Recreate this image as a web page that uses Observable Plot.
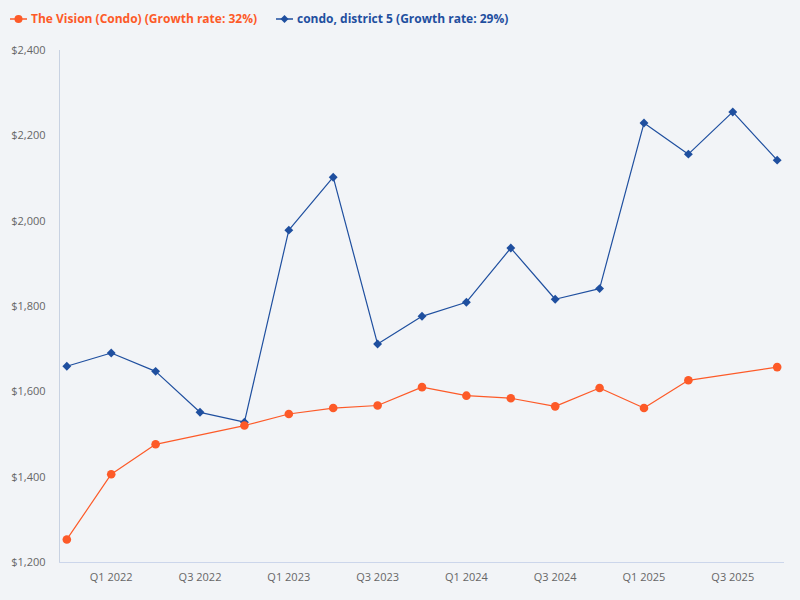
<!DOCTYPE html>
<html>
<head>
<meta charset="utf-8">
<script src="https://cdn.jsdelivr.net/npm/d3@7"></script>
<script src="https://cdn.jsdelivr.net/npm/@observablehq/plot@0.6"></script>
<style>
  html, body { margin: 0; padding: 0; background: #f2f4f7; }
  body { width: 800px; height: 600px; overflow: hidden; font-family: "Open Sans", "Noto Sans", sans-serif; }
  #legend { height: 36px; position: relative; font-weight: 700; font-size: 12px; }
  .item { position: absolute; top: 10px; display: flex; align-items: center; white-space: nowrap; }
  .item svg { margin-right: 4px; }
</style>
</head>
<body>
<div id="legend"></div>
<div id="chart"></div>
<script>
const quarters = ["Q4 2021","Q1 2022","Q2 2022","Q3 2022","Q4 2022","Q1 2023","Q2 2023","Q3 2023","Q4 2023","Q1 2024","Q2 2024","Q3 2024","Q4 2024","Q1 2025","Q2 2025","Q3 2025","Q4 2025"];
const visionValues   = [1254,1407,1477,null,1521,1548,1562,1568,1611,1591,1585,1566,1609,1562,1627,null,1658];
const districtValues = [1660,1691,1648,1552,1529,1979,2103,1712,1777,1810,1937,1817,1842,2230,2157,2256,2143];
const yTicks = [1200,1400,1600,1800,2000,2200,2400];
const xTickLabels = ["Q1 2022","Q3 2022","Q1 2023","Q3 2023","Q1 2024","Q3 2024","Q1 2025","Q3 2025"];
const seriesNames = ["The Vision (Condo) (Growth rate: 32%)","condo, district 5 (Growth rate: 29%)"];
const orange = "#fd5a28";
const blue = "#1f4f9f";

const vision = quarters.map((q, i) => ({i, q, v: visionValues[i]})).filter(d => d.v != null);
const district = quarters.map((q, i) => ({i, q, v: districtValues[i]}));
const xTicks = xTickLabels.map(l => quarters.indexOf(l));

// legend
const legend = document.getElementById("legend");
legend.innerHTML = `
  <div class="item" style="left:10px;color:${orange}">
    <svg width="17" height="10"><line x1="0" x2="17" y1="5" y2="5" stroke="${orange}" stroke-width="1.5"/><circle cx="8.5" cy="5" r="4" fill="${orange}"/></svg>${seriesNames[0]}
  </div>
  <div class="item" style="left:276px;color:${blue}">
    <svg width="17" height="10"><line x1="0" x2="17" y1="5" y2="5" stroke="${blue}" stroke-width="1.5"/><path d="M8.5,1L12.5,5L8.5,9L4.5,5Z" fill="${blue}"/></svg>${seriesNames[1]}
  </div>`;

const pad = 0.165;
const chart = Plot.plot({
  width: 800,
  height: 564,
  marginTop: 14,
  marginBottom: 38,
  marginLeft: 59,
  marginRight: 16,
  style: {background: "#f2f4f7", fontFamily: "'Open Sans', 'Noto Sans', sans-serif", fontSize: "11px", color: "#666"},
  x: {domain: [-pad, quarters.length - 1 + pad], ticks: xTicks, tickFormat: i => quarters[i], tickSize: 0, tickPadding: 11, label: null},
  y: {domain: [1200, 2400], ticks: yTicks, tickFormat: d => "$" + d3.format(",")(d), tickSize: 0, tickPadding: 14, label: null},
  marks: [
    Plot.ruleX([-pad], {stroke: "#c8d2e2", strokeWidth: 1}),
    Plot.ruleY([1200], {stroke: "#ccd6eb", strokeWidth: 1}),
    Plot.line(district, {x: "i", y: "v", stroke: blue, strokeWidth: 1.2}),
    Plot.line(vision, {x: "i", y: "v", stroke: orange, strokeWidth: 1.2}),
    Plot.dot(district, {x: "i", y: "v", symbol: "diamond2", r: 4, fill: blue, stroke: "none"}),
    Plot.dot(vision, {x: "i", y: "v", r: 4.3, fill: orange, stroke: "none"})
  ]
});
document.getElementById("chart").appendChild(chart);
</script>
</body>
</html>
